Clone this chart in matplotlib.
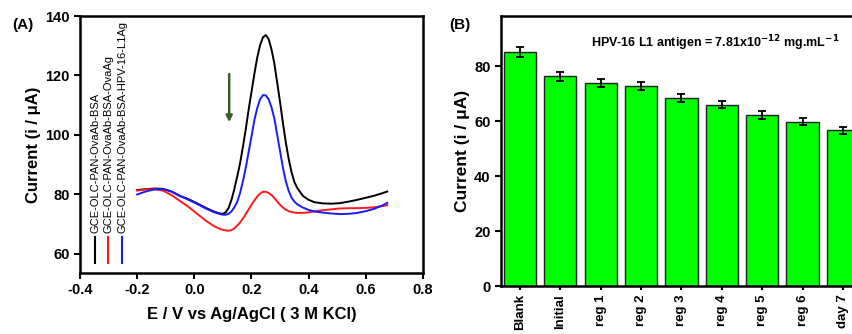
import matplotlib
matplotlib.use("Agg")
import matplotlib.pyplot as plt

plt.rcParams['font.family'] = ['Liberation Sans', 'DejaVu Sans']
plt.rcParams['font.weight'] = 'bold'
plt.rcParams['mathtext.default'] = 'bf'

# ---------------- Panel A data (DPV curves) ----------------
potential = [-0.20, -0.17, -0.14, -0.11, -0.08, -0.05, -0.02, 0.01, 0.04, 0.07,
             0.09, 0.10, 0.11, 0.12, 0.13, 0.14, 0.15, 0.16, 0.17, 0.18,
             0.19, 0.20, 0.21, 0.22, 0.23, 0.24, 0.25, 0.26, 0.27, 0.28,
             0.29, 0.30, 0.31, 0.32, 0.33, 0.34, 0.35, 0.36, 0.38, 0.40,
             0.42, 0.45, 0.48, 0.51, 0.54, 0.57, 0.60, 0.63, 0.66, 0.675]

current_bsa = [81.5, 81.8, 82.0, 81.9, 81.0, 79.5, 78.4, 77.0, 75.5, 74.2,
               73.6, 73.5, 74.0, 75.5, 78.2, 81.8, 86.0, 90.5, 96.0, 102.0,
               108.5, 114.5, 120.5, 126.0, 130.2, 132.8, 133.6, 132.2, 128.8, 124.0,
               117.5, 111.0, 104.0, 97.5, 92.0, 87.5, 84.2, 82.2, 79.5, 78.2,
               77.4, 77.0, 76.9, 77.1, 77.6, 78.2, 78.9, 79.6, 80.5, 81.0]

current_ovaag = [81.3, 81.7, 81.8, 81.3, 79.8, 77.8, 75.8, 73.5, 71.2, 69.3,
                 68.4, 68.1, 67.9, 67.8, 68.0, 68.6, 69.5, 70.6, 71.9, 73.4,
                 75.0, 76.6, 78.0, 79.3, 80.3, 80.9, 80.9, 80.5, 79.8, 78.8,
                 77.6, 76.5, 75.6, 74.9, 74.4, 74.1, 73.9, 73.8, 73.8, 74.0,
                 74.3, 74.7, 75.0, 75.3, 75.4, 75.4, 75.5, 75.7, 76.1, 76.4]

current_hpv = [80.0, 81.0, 81.7, 81.8, 81.0, 79.5, 78.2, 76.8, 75.3, 74.0,
               73.4, 73.2, 73.2, 73.5, 74.3, 75.7, 77.5, 80.5, 84.5, 89.0,
               94.3, 99.5, 105.0, 109.0, 112.0, 113.4, 113.3, 112.0, 109.3, 105.5,
               100.0, 94.5, 89.0, 84.5, 81.2, 79.0, 77.6, 76.7, 75.6, 74.8,
               74.3, 73.9, 73.6, 73.4, 73.5, 73.8, 74.4, 75.2, 76.4, 77.2]

series_labels = ["GCE-OLC-PAN-OvaAb-BSA",
                 "GCE-OLC-PAN-OvaAb-BSA-OvaAg",
                 "GCE-OLC-PAN-OvaAb-BSA-HPV-16-L1Ag"]
series_colors = ["black", "#ff1a1a", "#1a1aff"]

# ---------------- Panel B data (bar chart) ----------------
categories = ["Blank", "Initial", "reg 1", "reg 2", "reg 3", "reg 4", "reg 5", "reg 6", "day 7"]
bar_values = [85.0, 76.2, 73.7, 72.8, 68.3, 66.0, 62.3, 59.8, 56.6]
bar_errors = [1.8, 1.5, 1.5, 1.5, 1.4, 1.4, 1.4, 1.3, 1.2]

W, H = 853, 334
fig = plt.figure(figsize=(W / 100, H / 100), dpi=100)

# ---------------- Panel A ----------------
axA = fig.add_axes([80 / W, 61 / H, 343 / W, 257 / H])
for yv, c in zip([current_bsa, current_ovaag, current_hpv], series_colors):
    axA.plot(potential, yv, color=c, lw=1.4)
axA.set_xlim(-0.4, 0.8)
axA.set_ylim(53.6, 140)
axA.set_xticks([-0.4, -0.2, 0.0, 0.2, 0.4, 0.6, 0.8])
axA.set_xticklabels(["-0.4", "-0.2", "0.0", "0.2", "0.4", "0.6", "0.8"])
axA.set_yticks([60, 80, 100, 120, 140])
axA.tick_params(direction='out', length=4, width=1.5, labelsize=10.5)
for s in axA.spines.values():
    s.set_linewidth(1.8)
axA.set_xlabel("E / V vs Ag/AgCl ( 3 M KCl)", fontsize=12, fontweight='bold', labelpad=7)
axA.set_ylabel("Current (i / μA)", fontsize=12, fontweight='bold', labelpad=3)

# vertical legend
leg_x = [-0.3475, -0.301, -0.252]
for lx, lab, c in zip(leg_x, series_labels, series_colors):
    axA.plot([lx, lx], [57.0, 65.7], color=c, lw=1.5, clip_on=False)
    axA.text(lx, 67.0, lab, rotation=90, ha='center', va='bottom',
             fontsize=8, fontweight='normal', color='black')

# arrow
axA.annotate("", xy=(0.122, 104.3), xytext=(0.122, 120.5),
             arrowprops=dict(arrowstyle='-|>', color='#3d5e2c', lw=1.8,
                             mutation_scale=9, shrinkA=0, shrinkB=0))

fig.text(23 / W, 1 - 25 / H, "(A)", fontsize=11, fontweight='bold', ha='center', va='center')

# ---------------- Panel B ----------------
axB = fig.add_axes([501 / W, 48 / H, 352 / W, 270 / H])
xpos = list(range(len(categories)))
axB.bar(xpos, bar_values, width=0.8, color='#00ff00', edgecolor='#222222', linewidth=1.0,
        yerr=bar_errors, capsize=3, error_kw=dict(ecolor='black', elinewidth=1.3, capthick=1.3))
axB.set_xlim(-0.47, 8.25)
axB.set_ylim(0, 98.2)
axB.set_xticks(xpos)
axB.set_xticklabels(categories, rotation=90, fontsize=9.5, fontweight='bold')
axB.set_yticks([0, 20, 40, 60, 80])
axB.tick_params(axis='y', direction='out', length=4, width=1.5, labelsize=10.5)
axB.tick_params(axis='x', direction='out', length=3, width=1.5, pad=3)
axB.spines['right'].set_visible(False)
for s in ['left', 'top', 'bottom']:
    axB.spines[s].set_linewidth(1.8)
axB.set_ylabel("Current (i / μA)", fontsize=12.5, fontweight='bold', labelpad=3)
fig.text(715 / W, 1 - 43 / H, r"HPV-16 L1 antigen = 7.81x10$^{-12}$ mg.mL$^{-1}$",
         fontsize=9, fontweight='bold', ha='center', va='center')

fig.text(460 / W, 1 - 25 / H, "(B)", fontsize=11, fontweight='bold', ha='center', va='center')

fig.savefig("out.png", dpi=100)
